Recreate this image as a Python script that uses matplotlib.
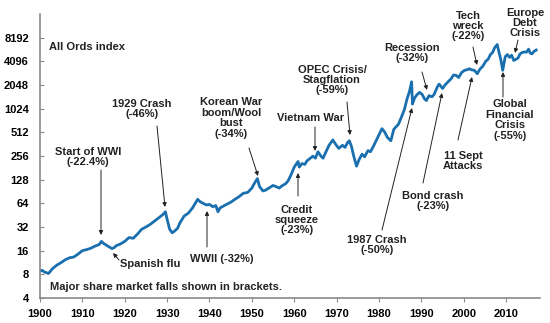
import matplotlib
matplotlib.use('Agg')
import matplotlib.pyplot as plt

plt.rcParams['font.family'] = ['Liberation Sans', 'DejaVu Sans']
plt.rcParams['font.weight'] = 'bold'

# All Ords index (year, index level)
years = [1900, 1900.5, 1901, 1901.5, 1902, 1903, 1904, 1905, 1906, 1907, 1908, 1909,
         1910, 1911, 1912, 1913, 1914, 1914.5, 1915, 1916, 1917, 1917.5, 1918, 1919,
         1920, 1921, 1922, 1923, 1924, 1925, 1926, 1927, 1928, 1929, 1929.6, 1930,
         1930.6, 1931.2, 1931.8, 1932.5, 1933, 1934, 1935, 1936, 1937.2, 1937.8, 1938.5,
         1939.3, 1940, 1940.8, 1941.5, 1942, 1942.5, 1943, 1944, 1945, 1946, 1947, 1948,
         1949, 1950, 1950.6, 1951.3, 1951.8, 1952.6, 1953.2, 1954, 1955, 1955.8, 1956.5,
         1957, 1958, 1958.6, 1959.3, 1960, 1960.9, 1961.2, 1961.8, 1962.5, 1963, 1963.8,
         1964.4, 1965, 1965.6, 1966.3, 1966.8, 1967.5, 1968.2, 1969.1, 1969.8, 1970.5,
         1971.4, 1972, 1972.6, 1973, 1973.5, 1974, 1974.7, 1975.3, 1976, 1976.6, 1977.4,
         1978, 1978.8, 1979.5, 1980, 1980.7, 1981.3, 1982, 1982.8, 1983.5, 1984, 1984.6,
         1985.3, 1986, 1986.6, 1987.2, 1987.7, 1987.9, 1988.4, 1989, 1989.6, 1990.2,
         1990.8, 1991.2, 1991.8, 1992.5, 1993, 1993.8, 1994.2, 1995, 1995.6, 1996.3, 1997,
         1997.6, 1998.3, 1998.8, 1999.5, 2000.2, 2000.8, 2001.3, 2001.8, 2002.5, 2003.2,
         2003.8, 2004.5, 2005.2, 2005.8, 2006.3, 2006.8, 2007.3, 2007.9, 2008.3, 2008.8,
         2009.2, 2009.8, 2010.3, 2010.8, 2011.3, 2011.8, 2012.3, 2012.8, 2013.3, 2013.8,
         2014.3, 2014.8, 2015.3, 2015.7, 2016.1, 2016.6, 2017.1]
index = [8.8, 9.0, 8.6, 8.4, 8.2, 9.5, 10.5, 11.3, 12.3, 13.0, 13.3, 14.5,
         16.0, 16.5, 17.2, 18.3, 19.2, 21.0, 19.8, 18.3, 17.0, 17.5, 18.5, 19.5,
         21.0, 23.5, 23.0, 26.0, 30.0, 32.0, 34.5, 38.0, 42.0, 46.0, 50.0, 40.0,
         30.0, 27.0, 28.5, 31.0, 36, 44, 48, 56, 72, 67, 64,
         61, 62, 58, 60, 50, 56, 58, 62, 66, 72, 78, 86,
         88, 100, 115, 132, 105, 92, 94, 100, 108, 104, 100,
         106, 114, 125, 150, 185, 218, 185, 205, 200, 222, 240,
         255, 240, 290, 255, 240, 290, 350, 410, 360, 320,
         350, 330, 380, 400, 340, 260, 190, 230, 270, 250, 300,
         290, 350, 420, 480, 570, 520, 440, 400, 560, 600, 650,
         800, 1000, 1350, 1700, 2250, 1170, 1400, 1550, 1650, 1550,
         1350, 1300, 1500, 1450, 1550, 1950, 2100, 1850, 2050, 2250, 2450,
         2750, 2700, 2550, 2950, 3150, 3200, 3300, 3200, 3150, 2850,
         3250, 3550, 4100, 4400, 5000, 5300, 6100, 6700, 5400, 4200,
         3150, 4700, 5000, 4600, 4900, 4200, 4350, 4500, 5100, 5300,
         5400, 5350, 5850, 5200, 5100, 5500, 5700]

y_ticks = [4, 8, 16, 32, 64, 128, 256, 512, 1024, 2048, 4096, 8192]
x_ticks = list(range(1900, 2011, 10))

# annotations: text, text centre (px from top-left), arrow tail, arrow head
notes = [
    ('1929 Crash\n(-46%)', (142, 109), (157, 126), (165, 207)),
    ('Korean War\nboom/Wool\nbust\n(-34%)', (231, 118), (249, 148), (258, 176)),
    ('Start of WWI\n(-22.4%)', (88, 157), (101, 170), (101, 235)),
    ('WWII (-32%)', (222, 259), (207, 247), (207, 211)),
    ('Vietnam War', (311, 118), (315, 127), (315, 151)),
    ('OPEC Crisis/\nStagflation\n(-59%)', (332, 80), (347, 102), (350, 135)),
    ('Recession\n(-32%)', (412, 53), (422, 72), (427, 90)),
    ('Tech\nwreck\n(-22%)', (468, 26), (473, 47), (477, 65)),
    ('Europe\nDebt\nCrisis', (525, 23), (518, 40), (515, 53)),
    ('Global\nFinancial\nCrisis\n(-55%)', (510, 120), (503, 97), (503, 72)),
    ('11 Sept\nAttacks', (463, 161), (458, 140), (472, 77)),
    ('Bond crash\n(-23%)', (433, 201), (423, 183), (442, 93)),
    ('1987 Crash\n(-50%)', (377, 245), (382, 230), (412, 108)),
    ('Credit\nsqueeze\n(-23%)', (297, 220), (298, 196), (298, 173)),
]

H = 323

fig = plt.figure(figsize=(5.5, 3.23), dpi=100)
ax = fig.add_axes([40 / 550, 25 / 323, 500 / 550, 284 / 323])

ax.plot(years, index, color='#1a6faf', lw=2.0, solid_joinstyle='round')

ax.set_yscale('log', base=2)
ax.set_ylim(4, 16384)
ax.set_xlim(1900, 2018)
ax.set_yticks(y_ticks)
ax.set_yticklabels([str(t) for t in y_ticks])
ax.minorticks_off()
ax.set_xticks(x_ticks)

for side in ['top', 'right']:
    ax.spines[side].set_visible(False)
for side in ['left', 'bottom']:
    ax.spines[side].set_color('#8a8a8a')
    ax.spines[side].set_linewidth(1.2)
ax.tick_params(axis='y', direction='in', length=3, color='#8a8a8a', pad=8, labelsize=8)
ax.tick_params(axis='x', direction='out', length=3, color='#8a8a8a', pad=5, labelsize=8)

def fp(p):
    return (p[0], H - p[1])

for text, pos, tail, head in notes:
    ax.annotate('', xy=fp(head), xycoords='figure pixels', xytext=fp(tail),
                textcoords='figure pixels',
                arrowprops=dict(arrowstyle='-|>', color='#222222', lw=0.7,
                                mutation_scale=6, shrinkA=0, shrinkB=0))
    fig.text(pos[0] / 550, 1 - pos[1] / H, text, ha='center', va='center',
             fontsize=8, fontweight='bold', color='#222222', linespacing=1.05)

# Spanish flu label with its short arrow
ax.annotate('', xy=fp((113, 253)), xycoords='figure pixels', xytext=fp((119, 260)),
            textcoords='figure pixels',
            arrowprops=dict(arrowstyle='-|>', color='#222222', lw=0.7,
                            mutation_scale=6, shrinkA=0, shrinkB=0))
fig.text(120 / 550, 1 - 264 / H, 'Spanish flu', ha='left', va='center',
         fontsize=8, fontweight='bold', color='#222222')

fig.text(49 / 550, 1 - 47 / H, 'All Ords index', ha='left', va='center',
         fontsize=8, fontweight='bold', color='#222222')
fig.text(50 / 550, 1 - 287 / H, 'Major share market falls shown in brackets.',
         ha='left', va='center', fontsize=8, fontweight='bold', color='#222222')

fig.savefig('out.png', dpi=100)
